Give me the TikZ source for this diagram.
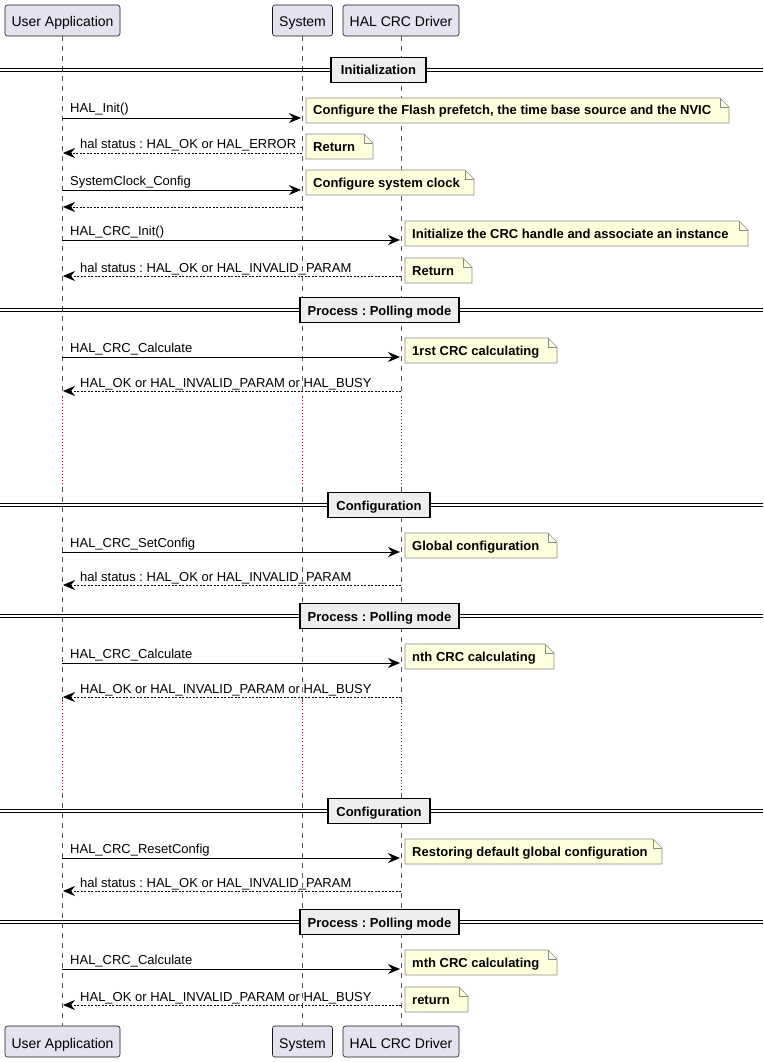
\documentclass[tikz,border=0pt]{standalone}
\usepackage{fontspec}
\setmainfont{Liberation Sans}
\usetikzlibrary{arrows.meta,shapes.misc}
\definecolor{partfill}{HTML}{E2E2F0}
\definecolor{partdraw}{HTML}{181818}
\definecolor{notefill}{HTML}{FEFFDD}
\definecolor{notedraw}{HTML}{8A8A8A}
\definecolor{lifecol}{HTML}{555555}
\definecolor{delaycol}{HTML}{A0104A}
\definecolor{divfill}{HTML}{EEEEEE}
\tikzset{
  x=1pt, y=1pt,
  part/.style={draw=partdraw, fill=partfill, rounded corners=2.5pt, line width=0.6pt,
    minimum height=31pt, inner sep=0pt, text height=13pt, text depth=0pt,
    font=\fontsize{14}{16}\selectfont},
  life/.style={draw=lifecol, line width=0.5pt, dash pattern=on 5pt off 5pt},
  delayline/.style={draw=delaycol, line width=1pt, dash pattern=on 1pt off 2.2pt},
  call/.style={draw=black, line width=0.8pt, -{Stealth[length=12pt,width=10pt,inset=4pt]}},
  ret/.style={draw=black, line width=0.7pt, dash pattern=on 2pt off 1.5pt, -{Stealth[length=12pt,width=10pt,inset=4pt]}},
  msglabel/.style={inner sep=0pt, anchor=base west, font=\frenchspacing\fontsize{13}{15}\selectfont},
  notetext/.style={inner sep=0pt, anchor=base west, font=\frenchspacing\bfseries\fontsize{13}{15}\selectfont},
  divbox/.style={draw=black, fill=divfill, line width=1.6pt, minimum height=25pt, inner sep=0pt,
    text height=11pt, text depth=1pt, font=\frenchspacing\bfseries\fontsize{13}{15}\selectfont},
}
% note: #1 name, #2 left x, #3 top y, #4 right x, #5 bottom y, #6 text
\newcommand\mynote[6]{%
  \fill[notefill] (#2,-#3) -- (#4-9,-#3) -- (#4,-#3-9) -- (#4,-#5) -- (#2,-#5) -- cycle;
  \draw[notedraw, line width=0.6pt] (#2,-#3) -- (#4-9,-#3) -- (#4,-#3-9) -- (#4,-#5) -- (#2,-#5) -- cycle;
  \draw[notedraw, line width=0.6pt] (#4-9,-#3) -- (#4-9,-#3-9) -- (#4,-#3-9);
  \node[notetext] (#1) at (#2+7,-#5+8) {#6};}
% divider: #1 name, #2 y, #3 box left, #4 box right, #5 text
\newcommand\mydivider[5]{%
  \draw[line width=1pt] (0,-#2+1.6) -- (763,-#2+1.6);
  \draw[line width=1pt] (0,-#2-1.6) -- (763,-#2-1.6);
  \node[divbox, minimum width=#4-#3] (#1) at ({(#3+#4)/2},-#2) {#5};}
\begin{document}
\begin{tikzpicture}
\useasboundingbox[fill=white] (0,0) rectangle (763,-1062);

% participants
\node[part, minimum width=115pt] (ua) at (62.5,-20.5) {User Application};
\node[part, minimum width=60pt] (sy) at (302.5,-20.5) {System};
\node[part, minimum width=116pt] (hd) at (401,-20.5) {HAL CRC Driver};
\node[part, minimum width=115pt] (ua2) at (62.5,-1041.5) {User Application};
\node[part, minimum width=60pt] (sy2) at (302.5,-1041.5) {System};
\node[part, minimum width=116pt] (hd2) at (401,-1041.5) {HAL CRC Driver};

% lifeline coordinates
\foreach \n/\x in {u/62, s/302, h/401}{
  \coordinate (\n0) at (\x,-36);
  \coordinate (\n1) at (\x,-397);
  \coordinate (\n2) at (\x,-487);
  \coordinate (\n3) at (\x,-703);
  \coordinate (\n4) at (\x,-793);
  \coordinate (\n5) at (\x,-1026);
  \draw[life] (\n0) -- (\n1);
  \draw[delayline] (\n1) -- (\n2);
  \draw[life] (\n2) -- (\n3);
  \draw[delayline] (\n3) -- (\n4);
  \draw[life] (\n4) -- (\n5);
}

% dividers
\mydivider{d1}{70}{331}{426}{Initialization}
\mydivider{d2}{310}{300}{459}{Process : Polling mode}
\mydivider{d3}{505}{328}{430}{Configuration}
\mydivider{d4}{616}{300}{459}{Process : Polling mode}
\mydivider{d5}{811}{328}{430}{Configuration}
\mydivider{d6}{922}{300}{459}{Process : Polling mode}

% messages
\coordinate (a1) at (62,-118); \coordinate (b1) at (301,-118);
\draw[call] (a1) -- (b1);
\node[msglabel] (l1) at (70,-113) {HAL\_Init()};
\mynote{n1}{306}{98}{729}{123}{Configure the Flash prefetch, the time base source and the NVIC}

\coordinate (a2) at (302,-153); \coordinate (b2) at (63,-153);
\draw[ret] (a2) -- (b2);
\node[msglabel] (l2) at (80,-149) {hal status : HAL\_OK or HAL\_ERROR};
\mynote{n2}{306}{134}{373}{159}{Return}

\coordinate (a3) at (62,-190); \coordinate (b3) at (301,-190);
\draw[call] (a3) -- (b3);
\node[msglabel] (l3) at (70,-185) {SystemClock\_Config};
\mynote{n3}{306}{170}{474}{195}{Configure system clock}

\coordinate (a4) at (302,-207); \coordinate (b4) at (63,-207);
\draw[ret] (a4) -- (b4);

\coordinate (a5) at (62,-240); \coordinate (b5) at (400,-240);
\draw[call] (a5) -- (b5);
\node[msglabel] (l5) at (70,-235) {HAL\_CRC\_Init()};
\mynote{n5}{405}{221}{748}{246}{Initialize the CRC handle and associate an instance}

\coordinate (a6) at (401,-276); \coordinate (b6) at (63,-276);
\draw[ret] (a6) -- (b6);
\node[msglabel] (l6) at (80,-272) {hal status : HAL\_OK or HAL\_INVALID\_PARAM};
\mynote{n6}{405}{258}{472}{283}{Return}

\coordinate (a7) at (62,-357); \coordinate (b7) at (400,-357);
\draw[call] (a7) -- (b7);
\node[msglabel] (l7) at (70,-352) {HAL\_CRC\_Calculate};
\mynote{n7}{405}{338}{557}{363}{1rst CRC calculating}

\coordinate (a8) at (401,-391); \coordinate (b8) at (63,-391);
\draw[ret] (a8) -- (b8);
\node[msglabel] (l8) at (80,-387) {HAL\_OK or HAL\_INVALID\_PARAM or HAL\_BUSY};

\coordinate (a9) at (62,-552); \coordinate (b9) at (400,-552);
\draw[call] (a9) -- (b9);
\node[msglabel] (l9) at (70,-547) {HAL\_CRC\_SetConfig};
\mynote{n9}{405}{533}{557}{558}{Global configuration}

\coordinate (a10) at (401,-585); \coordinate (b10) at (63,-585);
\draw[ret] (a10) -- (b10);
\node[msglabel] (l10) at (80,-581) {hal status : HAL\_OK or HAL\_INVALID\_PARAM};

\coordinate (a11) at (62,-663); \coordinate (b11) at (400,-663);
\draw[call] (a11) -- (b11);
\node[msglabel] (l11) at (70,-658) {HAL\_CRC\_Calculate};
\mynote{n11}{405}{644}{554}{669}{nth CRC calculating}

\coordinate (a12) at (401,-697); \coordinate (b12) at (63,-697);
\draw[ret] (a12) -- (b12);
\node[msglabel] (l12) at (80,-693) {HAL\_OK or HAL\_INVALID\_PARAM or HAL\_BUSY};

\coordinate (a13) at (62,-858); \coordinate (b13) at (400,-858);
\draw[call] (a13) -- (b13);
\node[msglabel] (l13) at (70,-853) {HAL\_CRC\_ResetConfig};
\mynote{n13}{405}{839}{662}{864}{Restoring default global configuration}

\coordinate (a14) at (401,-891); \coordinate (b14) at (63,-891);
\draw[ret] (a14) -- (b14);
\node[msglabel] (l14) at (80,-887) {hal status : HAL\_OK or HAL\_INVALID\_PARAM};

\coordinate (a15) at (62,-969); \coordinate (b15) at (400,-969);
\draw[call] (a15) -- (b15);
\node[msglabel] (l15) at (70,-964) {HAL\_CRC\_Calculate};
\mynote{n15}{405}{950}{557}{975}{mth CRC calculating}

\coordinate (a16) at (401,-1005); \coordinate (b16) at (63,-1005);
\draw[ret] (a16) -- (b16);
\node[msglabel] (l16) at (80,-1001) {HAL\_OK or HAL\_INVALID\_PARAM or HAL\_BUSY};
\mynote{n16}{405}{987}{468}{1012}{return}
\end{tikzpicture}
\end{document}
